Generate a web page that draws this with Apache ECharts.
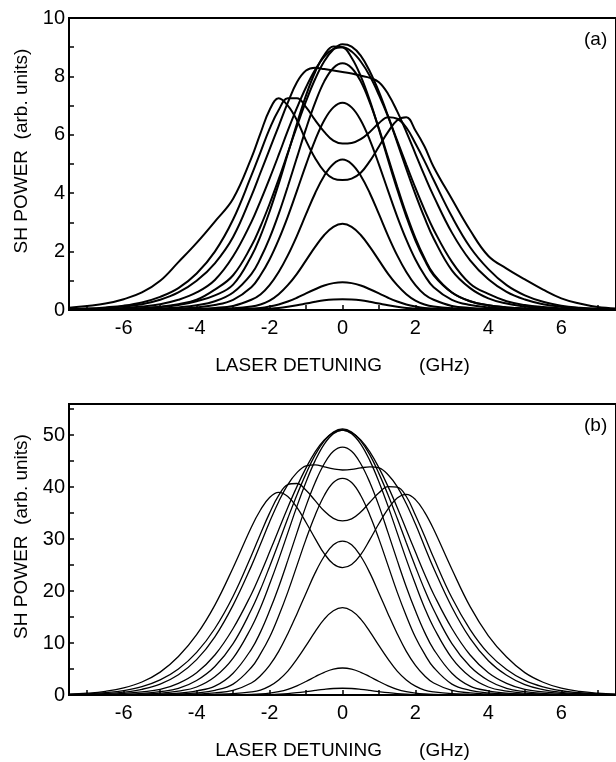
<!DOCTYPE html>
<html>
<head>
<meta charset="utf-8">
<script src="https://cdn.jsdelivr.net/npm/echarts@6/dist/echarts.min.js"></script>
<style>
  html, body { margin: 0; padding: 0; background: #fff; }
  #chart { width: 616px; height: 762px; }
</style>
</head>
<body>
<div id="chart"></div>
<script>
// laser detuning (GHz), shared by every curve
var detuning = [-7.5,-7,-6.5,-6,-5.5,-5,-4.5,-4,-3.5,-3,-2.5,-2.25,-2,-1.75,-1.5,-1.25,-1,-0.75,-0.5,-0.25,0,
                0.25,0.5,0.75,1,1.25,1.5,1.75,2,2.25,2.5,3,3.5,4,4.5,5,5.5,6,6.5,7,7.5];

// (a) measured SH power, arb. units
var a1  = [0,0,0,0,0,0,0,0,0,0.01,0.02,0.03,0.045,0.07,0.11,0.16,0.22,0.28,0.33,0.36,0.37,0.36,0.33,0.28,0.22,0.16,0.11,0.07,0.045,0.03,0.02,0.01,0,0,0,0,0,0,0,0,0];
var a2  = [0,0,0,0,0,0,0,0.01,0.02,0.03,0.05,0.07,0.12,0.19,0.29,0.42,0.57,0.71,0.84,0.92,0.95,0.92,0.84,0.71,0.57,0.42,0.29,0.19,0.12,0.07,0.05,0.03,0.02,0.01,0,0,0,0,0,0,0];
var a3  = [0,0,0,0,0.01,0.01,0.02,0.03,0.04,0.06,0.12,0.19,0.32,0.54,0.85,1.24,1.70,2.16,2.57,2.85,2.95,2.85,2.57,2.16,1.70,1.24,0.85,0.54,0.32,0.19,0.12,0.06,0.04,0.03,0.02,0.01,0.01,0,0,0,0];
var a4  = [0,0,0.01,0.01,0.01,0.02,0.03,0.04,0.07,0.14,0.35,0.53,0.85,1.30,1.87,2.54,3.28,4.0,4.6,5.0,5.15,5.0,4.6,4.0,3.28,2.54,1.87,1.30,0.85,0.53,0.35,0.14,0.07,0.04,0.03,0.02,0.01,0.01,0.01,0,0];
var a5  = [0,0.01,0.01,0.01,0.02,0.03,0.05,0.09,0.17,0.35,0.78,1.19,1.73,2.41,3.2,4.08,4.98,5.82,6.5,6.94,7.1,6.94,6.5,5.82,4.98,4.08,3.2,2.41,1.73,1.19,0.78,0.35,0.17,0.09,0.05,0.03,0.02,0.01,0.01,0.01,0];
var a6  = [0,0.01,0.01,0.02,0.03,0.05,0.09,0.16,0.3,0.6,1.23,1.77,2.46,3.29,4.23,5.22,6.21,7.1,7.83,8.29,8.45,8.29,7.83,7.1,6.21,5.22,4.23,3.29,2.46,1.77,1.23,0.6,0.3,0.16,0.09,0.05,0.03,0.02,0.01,0.01,0];
var a7  = [0.01,0.01,0.02,0.03,0.06,0.1,0.17,0.3,0.5,0.87,1.84,2.53,3.37,4.32,5.35,6.38,7.35,8.15,8.73,9.02,9.0,8.64,8.01,7.17,6.18,5.14,4.13,3.2,2.38,1.72,1.19,0.6,0.3,0.16,0.09,0.05,0.03,0.02,0.01,0.01,0];
var a8  = [0.01,0.01,0.02,0.04,0.06,0.11,0.2,0.35,0.7,1.19,2.19,2.86,3.63,4.48,5.38,6.29,7.15,7.91,8.52,8.92,9.1,9.02,8.71,8.17,7.47,6.64,5.74,4.83,3.96,3.16,2.45,1.36,0.75,0.4,0.22,0.12,0.07,0.04,0.02,0.01,0.01];
var a9  = [0.01,0.02,0.04,0.07,0.12,0.2,0.35,0.6,1.03,1.84,3.01,3.73,4.5,5.31,6.14,6.92,7.63,8.23,8.68,8.94,9.0,8.85,8.51,8.01,7.36,6.62,5.8,4.98,4.18,3.43,2.75,1.65,0.9,0.55,0.3,0.17,0.1,0.06,0.03,0.02,0.01];
var a10 = [0.02,0.04,0.07,0.12,0.2,0.35,0.6,1.0,1.6,2.5,3.9,4.7,5.5,6.3,7.1,7.8,8.2,8.3,8.25,8.2,8.15,8.1,8.02,7.95,7.8,7.4,6.8,6.1,5.35,4.6,3.9,2.65,1.7,1.05,0.62,0.36,0.2,0.11,0.06,0.03,0.02];
var a11 = [0.03,0.05,0.09,0.15,0.26,0.45,0.75,1.25,2.0,3.1,4.6,5.4,6.2,6.85,7.25,7.25,6.95,6.5,6.1,5.8,5.7,5.72,5.85,6.1,6.4,6.6,6.55,6.25,5.7,5.1,4.45,3.2,2.15,1.4,0.85,0.5,0.28,0.15,0.08,0.04,0.02];
var a12 = [0.08,0.14,0.22,0.37,0.6,1.0,1.64,2.3,3.03,3.81,5.2,6.05,6.85,7.25,7.0,6.5,5.8,5.2,4.75,4.5,4.45,4.5,4.7,5.1,5.6,6.1,6.5,6.6,6.15,5.6,4.9,3.8,2.73,1.85,1.42,1.05,0.7,0.4,0.22,0.1,0.05];

// (b) calculated SH power, arb. units
var b1  = [0,0,0,0,0,0,0,0.01,0.01,0.02,0.04,0.05,0.09,0.16,0.27,0.44,0.65,0.88,1.09,1.25,1.3,1.25,1.09,0.88,0.65,0.44,0.27,0.16,0.09,0.05,0.04,0.02,0.01,0.01,0,0,0,0,0,0,0];
var b2  = [0,0,0,0,0,0,0.01,0.02,0.03,0.05,0.12,0.2,0.36,0.65,1.09,1.76,2.6,3.52,4.37,4.98,5.2,4.98,4.37,3.52,2.6,1.76,1.09,0.65,0.36,0.2,0.12,0.05,0.03,0.02,0.01,0,0,0,0,0,0];
var b3  = [0,0,0,0.01,0.01,0.02,0.03,0.06,0.12,0.25,0.6,0.95,1.7,2.9,4.6,6.9,9.5,12.2,14.6,16.2,16.8,16.2,14.6,12.2,9.5,6.9,4.6,2.9,1.7,0.95,0.6,0.25,0.12,0.06,0.03,0.02,0.01,0.01,0,0,0];
var b4  = [0,0.01,0.01,0.02,0.03,0.06,0.1,0.2,0.4,0.9,2.3,3.7,5.7,8.4,11.8,15.6,19.6,23.5,26.7,28.9,29.6,28.9,26.7,23.5,19.6,15.6,11.8,8.4,5.7,3.7,2.3,0.9,0.4,0.2,0.1,0.06,0.03,0.02,0.01,0.01,0];
var b5  = [0,0.01,0.02,0.03,0.06,0.1,0.2,0.4,0.9,2.1,5.3,7.9,11.1,15.2,19.8,24.9,30.0,34.6,38.4,40.9,41.7,40.9,38.4,34.6,30.0,24.9,19.8,15.2,11.1,7.9,5.3,2.1,0.9,0.4,0.2,0.1,0.06,0.03,0.02,0.01,0];
var b6  = [0.01,0.02,0.03,0.05,0.1,0.18,0.35,0.8,1.7,4.2,8.8,12.1,16.2,20.8,25.9,31.2,36.4,40.9,44.5,46.9,47.7,46.9,44.5,40.9,36.4,31.2,25.9,20.8,16.2,12.1,8.8,4.2,1.7,0.8,0.35,0.18,0.1,0.05,0.03,0.02,0.01];
var b7  = [0.02,0.03,0.05,0.09,0.18,0.35,0.75,1.54,3.5,7.1,13.0,16.8,21.3,26.1,31.2,36.3,41.0,45.1,48.3,50.3,51.0,50.3,48.3,45.1,41.0,36.3,31.2,26.1,21.3,16.8,13.0,7.1,3.5,1.54,0.75,0.35,0.18,0.09,0.05,0.03,0.02];
var b8  = [0.02,0.04,0.08,0.15,0.3,0.65,1.28,2.8,5.5,9.9,16.4,20.3,24.7,29.3,34.0,38.5,42.6,46.2,48.9,50.6,51.2,50.6,48.9,46.2,42.6,38.5,34.0,29.3,24.7,20.3,16.4,9.9,5.5,2.8,1.28,0.65,0.3,0.15,0.08,0.04,0.02];
var b9  = [0.04,0.08,0.15,0.3,0.6,1.08,2.25,4.3,7.7,12.8,19.4,23.3,27.5,31.8,36.1,40.1,43.7,46.8,49.1,50.5,51.0,50.5,49.1,46.8,43.7,40.1,36.1,31.8,27.5,23.3,19.4,12.8,7.7,4.3,2.25,1.08,0.6,0.3,0.15,0.08,0.04];
var b10 = [0.07,0.14,0.28,0.55,1.1,2.1,3.9,6.8,11.2,17.3,24.8,29.0,33.3,37.2,40.5,42.8,44.1,44.3,43.9,43.5,43.3,43.4,43.7,43.9,43.7,42.4,40.1,36.8,32.9,28.6,24.4,16.9,10.9,6.6,3.8,2.0,1.05,0.52,0.26,0.13,0.06];
var b11 = [0.1,0.22,0.45,0.85,1.6,2.9,5.0,8.2,12.8,19.0,26.8,31.0,35.0,38.4,40.5,40.7,39.4,37.4,35.4,34.0,33.5,33.9,35.2,37.1,38.9,40.1,40.0,38.2,34.6,30.6,26.4,18.7,12.6,8.0,4.9,2.8,1.55,0.82,0.43,0.21,0.1];
var b12 = [0.17,0.35,0.7,1.35,2.5,4.4,7.4,11.6,17.3,24.5,32.3,35.6,38.0,39.0,38.2,36.1,33.2,30.1,27.2,25.2,24.5,25.1,27.0,29.9,33.0,35.8,37.9,38.6,37.6,35.2,31.9,24.2,17.0,11.4,7.3,4.3,2.45,1.3,0.68,0.34,0.16];

// tick positions / labels
var xLabels  = [-6,-4,-2,0,2,4,6];
var xTicks   = [-7,-6,-5,-4,-3,-2,-1,0,1,2,3,4,5,6,7];
var yLabelsA = [0,2,4,6,8,10];
var yTicksA  = [0,1,2,3,4,5,6,7,8,9,10];
var yLabelsB = [0,10,20,30,40,50];
var yTicksB  = [0,5,10,15,20,25,30,35,40,45,50,55];

var panelA = [a1,a2,a3,a4,a5,a6,a7,a8,a9,a10,a11,a12];
var panelB = [b1,b2,b3,b4,b5,b6,b7,b8,b9,b10,b11,b12];

var chart = echarts.init(document.getElementById('chart'));

var FONT = '"Liberation Sans", Arial, sans-serif';

function xAxisFor(idx) {
    return {
        type: 'value', gridIndex: idx, min: -7.5, max: 7.5,
        name: 'LASER DETUNING       (GHz)',
        nameLocation: 'middle', nameGap: 46,
        nameTextStyle: { color: '#000', fontSize: 19, fontFamily: FONT },
        axisLine: { onZero: false, lineStyle: { color: '#000', width: 2 } },
        axisTick: { inside: true, length: 5, customValues: xTicks, lineStyle: { color: '#000', width: 1.5 } },
        axisLabel: { customValues: xLabels, color: '#000', fontSize: 20, fontFamily: FONT, margin: 8 },
        splitLine: { show: false }
    };
}

function yAxisFor(idx, max, labels, ticks) {
    return {
        type: 'value', gridIndex: idx, min: 0, max: max,
        name: 'SH POWER  (arb. units)',
        nameLocation: 'middle', nameGap: 38,
        nameTextStyle: { color: '#000', fontSize: 19, fontFamily: FONT, padding: [0, 0, 0, 26] },
        axisLine: { show: true, onZero: false, lineStyle: { color: '#000', width: 2 } },
        axisTick: { show: true, inside: true, length: 5, customValues: ticks, lineStyle: { color: '#000', width: 1.5 } },
        axisLabel: { customValues: labels, color: '#000', fontSize: 20, fontFamily: FONT, margin: 4 },
        splitLine: { show: false }
    };
}

var series = [];
panelA.forEach(function (arr) {
    series.push({
        type: 'line', xAxisIndex: 0, yAxisIndex: 0, showSymbol: false, smooth: 0.4,
        lineStyle: { color: '#000', width: 2 },
        data: detuning.map(function (x, i) { return [x, arr[i]]; })
    });
});
panelB.forEach(function (arr) {
    series.push({
        type: 'line', xAxisIndex: 1, yAxisIndex: 1, showSymbol: false, smooth: 0.4,
        lineStyle: { color: '#000', width: 1.3 },
        data: detuning.map(function (x, i) { return [x, arr[i]]; })
    });
});

option = {
    backgroundColor: '#fff',
    animation: false,
    grid: [
        { left: 69, top: 18, width: 552, height: 292, show: true, borderColor: '#000', borderWidth: 2 },
        { left: 69, top: 404, width: 552, height: 291, show: true, borderColor: '#000', borderWidth: 2 }
    ],
    xAxis: [xAxisFor(0), xAxisFor(1)],
    yAxis: [yAxisFor(0, 10, yLabelsA, yTicksA), yAxisFor(1, 56, yLabelsB, yTicksB)],
    graphic: [
        { type: 'text', left: 584, top: 30, style: { text: '(a)', fill: '#000', font: '19px ' + FONT } },
        { type: 'text', left: 584, top: 416, style: { text: '(b)', fill: '#000', font: '19px ' + FONT } }
    ],
    series: series
};

chart.setOption(option);
</script>
</body>
</html>
